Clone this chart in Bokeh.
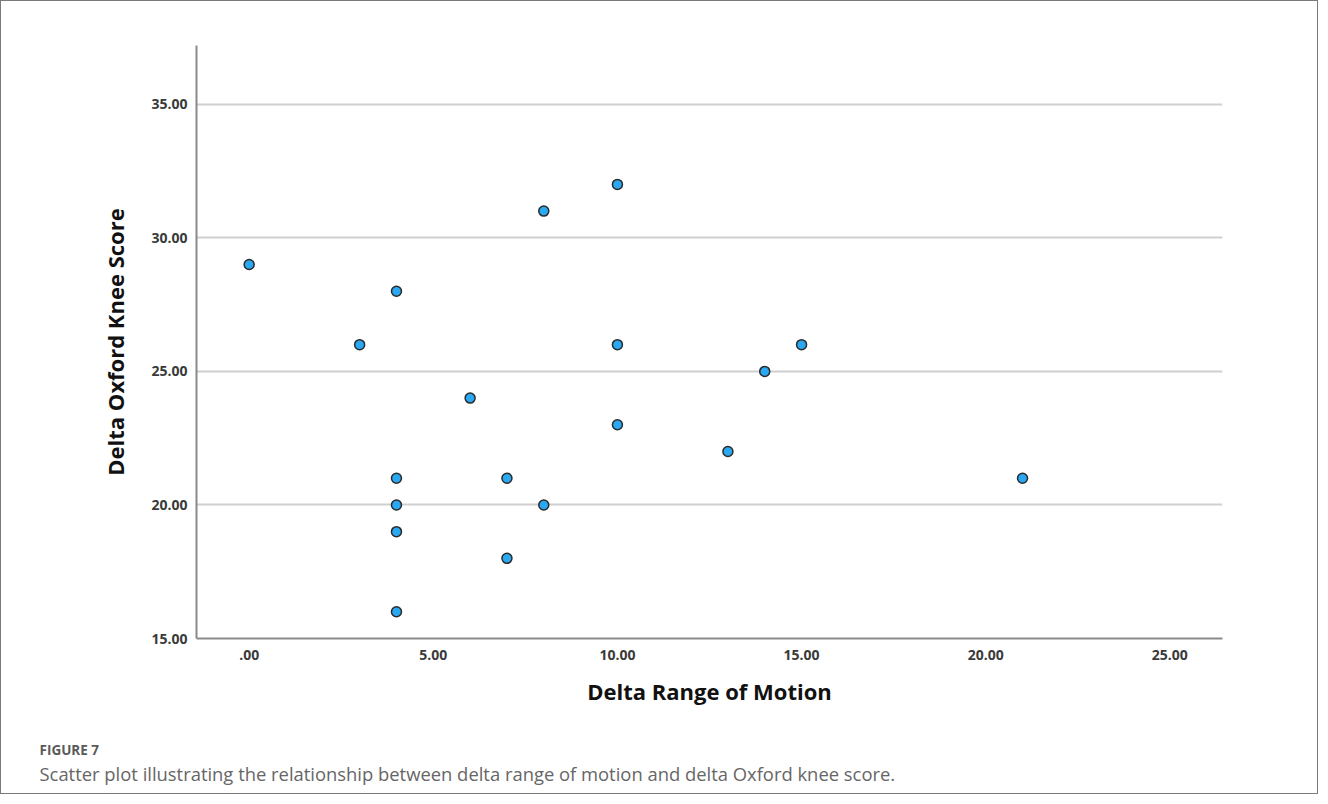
from bokeh.plotting import figure
from bokeh.models import Range1d, FixedTicker, Title
from bokeh.embed import file_html
from bokeh.resources import INLINE

# Data
delta_rom = [0, 3, 4, 4, 4, 4, 4, 6, 7, 7, 8, 8, 10, 10, 10, 13, 14, 15, 21]
delta_oks = [29, 26, 28, 21, 20, 19, 16, 24, 21, 18, 31, 20, 32, 26, 23, 22, 25, 26, 21]

x_ticks = [0, 5, 10, 15, 20, 25]
x_tick_labels = [".00", "5.00", "10.00", "15.00", "20.00", "25.00"]
y_ticks = [15, 20, 25, 30, 35]
y_tick_labels = ["15.00", "20.00", "25.00", "30.00", "35.00"]

x_title = "Delta Range of Motion"
y_title = "Delta Oxford Knee Score"
fig_label = "FIGURE 7"
caption = "Scatter plot illustrating the relationship between delta range of motion and delta Oxford knee score."

W, H = 1318, 794
p = figure(width=W, height=H, output_backend="svg", toolbar_location=None,
           x_range=Range1d(-1.43, 26.43), y_range=Range1d(15, 37.2),
           min_border_left=195, min_border_right=97, min_border_top=44,
           min_border_bottom=157)
p.styles = {"border": "1px solid #7a7a7a"}
p.outline_line_color = None
p.background_fill_color = "white"
p.border_fill_color = "white"

p.xgrid.grid_line_color = None
p.ygrid.grid_line_color = "#cfcfcf"
p.ygrid.grid_line_width = 2

p.xaxis.ticker = FixedTicker(ticks=x_ticks)
p.yaxis.ticker = FixedTicker(ticks=y_ticks)
p.xaxis.major_label_overrides = {t: l for t, l in zip(x_ticks, x_tick_labels)}
p.yaxis.major_label_overrides = {t: l for t, l in zip(y_ticks, y_tick_labels)}

for ax in (p.xaxis, p.yaxis):
    ax.axis_line_color = "#8a8a8a"
    ax.axis_line_width = 2
    ax.major_tick_line_color = None
    ax.minor_tick_line_color = None
    ax.major_label_text_font = "Open Sans"
    ax.major_label_text_font_size = "14px"
    ax.major_label_text_color = "#3a3a3a"
    ax.major_label_text_font_style = "bold"
    ax.axis_label_text_font = "Open Sans"
    ax.axis_label_text_font_size = "22px"
    ax.axis_label_text_font_style = "bold"
    ax.axis_label_text_color = "#111111"

p.xaxis.axis_label = x_title
p.yaxis.axis_label = y_title
p.xaxis.major_label_standoff = 5
p.yaxis.major_label_standoff = 3
p.xaxis.axis_label_standoff = 13
p.yaxis.axis_label_standoff = 18

p.scatter(delta_rom, delta_oks, marker="circle", size=10,
          fill_color="#2aa8f2", line_color="#2a2a2a", line_width=1.5)

# spacer panel below the x axis, then the figure label and the caption
p.add_layout(Title(text=" ", align="left", standoff=10,
                   text_font="Open Sans", text_font_size="13px"), "below")
p.add_layout(Title(text=fig_label, align="left", offset=-157, standoff=0,
                   text_font="Open Sans", text_font_size="13.5px",
                   text_font_style="bold", text_color="#5a5a5a"), "below")
p.add_layout(Title(text=caption, align="left", offset=-157, standoff=0,
                   text_font="Open Sans", text_font_size="18.4px",
                   text_font_style="normal", text_color="#666666"), "below")

open("out.html", "w").write(file_html(p, INLINE))
